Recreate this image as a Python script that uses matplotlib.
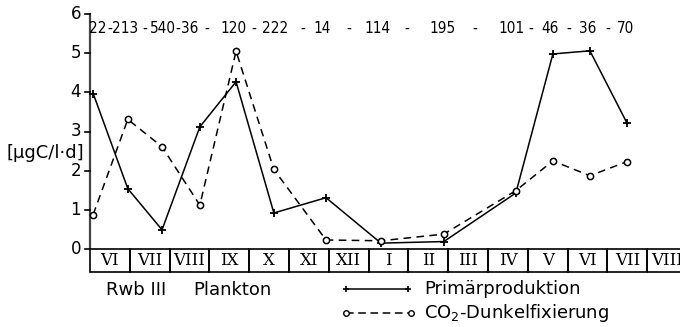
"""
Primärproduktion und CO2-Dunkelfixierung, Rwb III Plankton
"""

import matplotlib
matplotlib.use('Agg')
import matplotlib.pyplot as plt
from matplotlib.patches import Rectangle

plt.rcParams['font.family'] = 'DejaVu Sans'
plt.rcParams['axes.unicode_minus'] = False

# Probenahmezeitpunkte (Monate ab Anfang Juni)
t_sample = [0.08, 0.95, 1.81, 2.76, 3.67, 4.62, 5.93, 7.31, 8.89, 10.70, 11.63, 12.56, 13.49]
primaer = [3.97, 1.54, 0.49, 3.12, 4.27, 0.92, 1.31, 0.15, 0.19, 1.43, 4.98, 5.06, 3.22]
dunkel = [0.88, 3.31, 2.61, 1.12, 5.05, 2.03, 0.23, 0.21, 0.38, 1.49, 2.25, 1.87, 2.23]
zahlen = [22, 213, 540, 36, 120, 222, 14, 114, 195, 101, 46, 36, 70]
monate = ['VI', 'VII', 'VIII', 'IX', 'X', 'XI', 'XII', 'I', 'II', 'III', 'IV', 'V', 'VI', 'VII', 'VIII']
yticks = [0, 1, 2, 3, 4, 5, 6]

PX = 39.8  # pixel je Monat
fig = plt.figure(figsize=(6.8, 3.27), dpi=100)
ax = fig.add_axes([90 / 680, 54.5 / 327, 1 - 90 / 680, 258.5 / 327])
ax.set_xlim(0, 590 / PX)
ax.set_ylim(-0.6, 6)
ax.axis('off')

def px2x(p):
    return (p - 90) / PX

# y-Achse
ax.plot([0, 0], [0, 6], color='#444444', lw=1.6, clip_on=False)
for v in yticks:
    ax.plot([-5 / PX, 0], [v, v], color='black', lw=1.2, clip_on=False)
    ax.text(-9 / PX, v, str(v), ha='right', va='center', fontsize=12)
ax.text(px2x(6), 2.45, '[µgC/l·d]', ha='left', va='center', fontsize=13)

# Monatsleiste
for i, m in enumerate(monate):
    ax.add_patch(Rectangle((i, -0.59), 1, 0.59, fill=False, edgecolor='black',
                           lw=1.2, clip_on=False))
    ax.text(i + 0.5, -0.29, m, ha='center', va='center', fontsize=12,
            family='DejaVu Serif')

# Kurven
ax.plot(t_sample, primaer, '-', marker='+', color='black', lw=1.1,
        markersize=6, markeredgewidth=1.3, clip_on=False)
ax.plot(t_sample, dunkel, '--', marker='o', color='black', lw=1.1,
        markersize=4.5, markerfacecolor='white', markeredgewidth=1.1,
        dashes=(5, 3.5), clip_on=False)

# Zahlen oben
lab_x = [98, 125, 163, 190, 234, 275, 322, 377, 443, 511, 550, 588, 625]
dash_x = [110, 144.5, 178, 207, 254, 303, 349, 407, 475, 531, 569, 608]
for px, z in zip(lab_x, zahlen):
    ax.text(px2x(px), 5.64, str(z), ha='center', va='center', fontsize=11,
            fontstretch='condensed')
for px in dash_x:
    ax.text(px2x(px), 5.64, '-', ha='center', va='center', fontsize=11,
            fontstretch='condensed')

# Beschriftung unten
ax.text(px2x(106), -1.04, 'Rwb III', ha='left', va='center', fontsize=13)
ax.text(px2x(193), -1.04, 'Plankton', ha='left', va='center', fontsize=13)

# Legende
ax.plot([px2x(346), px2x(408)], [-1.02, -1.02], '-', marker='+', color='black',
        lw=1.1, markersize=5, markeredgewidth=1.2, clip_on=False)
ax.plot([px2x(346), px2x(411)], [-1.63, -1.63], '--', marker='o', color='black',
        lw=1.1, markersize=4, markerfacecolor='white', dashes=(5, 3),
        clip_on=False)
ax.text(px2x(424), -1.02, 'Primärproduktion', ha='left', va='center', fontsize=13)
ax.text(px2x(424), -1.63, 'CO$_2$-Dunkelfixierung', ha='left', va='center', fontsize=13)

fig.savefig('out.png', dpi=100, facecolor='white')
plt.close(fig)
